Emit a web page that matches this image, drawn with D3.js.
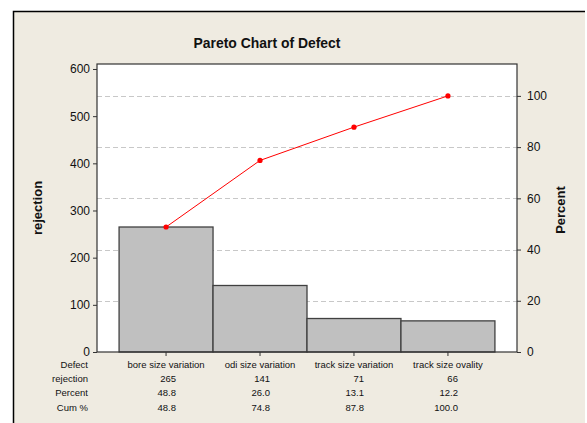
<!DOCTYPE html>
<html><head><meta charset="utf-8">
<script src="https://cdn.jsdelivr.net/npm/d3@7"></script>
<style>body{margin:0;background:#fff}svg{display:block}text{font-family:"Liberation Sans",Arial,sans-serif;fill:#111}</style>
</head><body><svg id="c" width="587" height="423"></svg>
<script>
const categories = ["bore size variation","odi size variation","track size variation","track size ovality"];
const rejection = [265,141,71,66];
const percent = [48.8,26.0,13.1,12.2];
const cumPercent = [48.8,74.8,87.8,100.0];
const leftTicks = [0,100,200,300,400,500,600];
const rightTicks = [0,20,40,60,80,100];
const rowLabels = ["Defect","rejection","Percent","Cum %"];
const yMax = 610.6;

const svg = d3.select("#c");
const L=97, R=517, T=64, B=352;
const total = d3.sum(rejection);

svg.append("rect").attr("x",13).attr("y",11).attr("width",572).attr("height",430).attr("fill","#EFEBE1");
svg.append("path").attr("d","M13.5,430V11.5H585").attr("stroke","#000").attr("stroke-width",1.5).attr("fill","none");

const x = d3.scaleBand().domain(categories).range([L,R]).paddingInner(0).paddingOuter(0.235);
const y = d3.scaleLinear().domain([0,yMax]).range([B,T]);
const yp = d3.scaleLinear().domain([0,yMax/total*100]).range([B,T]);

svg.append("rect").attr("x",L).attr("y",T).attr("width",R-L).attr("height",B-T).attr("fill","#fff");

svg.append("g").selectAll("line").data(rightTicks.filter(d=>d>0)).join("line")
  .attr("x1",L).attr("x2",R).attr("y1",d=>Math.round(yp(d))+0.5).attr("y2",d=>Math.round(yp(d))+0.5)
  .attr("stroke","#c8c8c8").attr("stroke-dasharray","5,3");

svg.append("g").selectAll("rect").data(categories).join("rect")
  .attr("x",d=>x(d)).attr("width",x.bandwidth())
  .attr("y",(d,i)=>y(rejection[i])).attr("height",(d,i)=>B-y(rejection[i]))
  .attr("fill","#c0c0c0").attr("stroke","#404040").attr("stroke-width",1.3);

svg.append("rect").attr("x",L).attr("y",T).attr("width",R-L).attr("height",B-T).attr("fill","none").attr("stroke","#333").attr("stroke-width",1.2);

const cx = d=>x(d)+x.bandwidth()/2;
svg.append("path").datum(categories).attr("fill","none").attr("stroke","#ff0000").attr("stroke-width",1)
  .attr("d",d3.line().x(d=>cx(d)).y((d,i)=>yp(cumPercent[i])));
svg.append("g").selectAll("circle").data(categories).join("circle")
  .attr("cx",d=>cx(d)).attr("cy",(d,i)=>yp(cumPercent[i])).attr("r",2.6).attr("fill","#ff0000");

const la = svg.append("g").attr("transform",`translate(${L},0)`)
  .call(d3.axisLeft(y).tickValues(leftTicks).tickSize(4).tickPadding(3));
la.select(".domain").remove();
const ra = svg.append("g").attr("transform",`translate(${R},0)`)
  .call(d3.axisRight(yp).tickValues(rightTicks).tickSize(4).tickPadding(6));
ra.select(".domain").remove();
const xa = svg.append("g").attr("transform",`translate(0,${B})`)
  .call(d3.axisBottom(x).tickSize(4).tickFormat(""));
xa.select(".domain").remove();
svg.selectAll(".tick line").attr("stroke","#333");
svg.selectAll(".tick text").attr("font-size",12).attr("font-family","'Liberation Sans',Arial,sans-serif").attr("fill","#111");

svg.append("text").attr("x",267).attr("y",48).attr("text-anchor","middle")
  .attr("font-size",15).attr("font-weight","bold").attr("textLength",147).attr("lengthAdjust","spacingAndGlyphs")
  .text("Pareto Chart of Defect");

svg.append("text").attr("transform","translate(42,208) rotate(-90)").attr("text-anchor","middle")
  .attr("font-size",13).attr("font-weight","bold").text("rejection");
svg.append("text").attr("transform","translate(565,210) rotate(-90)").attr("text-anchor","middle")
  .attr("font-size",13).attr("font-weight","bold").text("Percent");

const rowsY = [368,382,396,411];
svg.append("g").selectAll("text").data(rowLabels).join("text")
  .attr("x",88).attr("y",(d,i)=>rowsY[i]).attr("text-anchor","end").attr("font-size",9.5).text(d=>d);
svg.append("g").selectAll("text").data(categories).join("text")
  .attr("x",d=>cx(d)).attr("y",rowsY[0]).attr("text-anchor","middle").attr("font-size",9.5).text(d=>d);
const rows = [rejection.map(String), percent.map(v=>v.toFixed(1)), cumPercent.map(v=>v.toFixed(1))];
rows.forEach((r,ri)=>{
  svg.append("g").selectAll("text").data(categories).join("text")
    .attr("x",d=>cx(d)+10).attr("y",rowsY[ri+1]).attr("text-anchor","end").attr("font-size",9.5)
    .text((d,i)=>r[i]);
});
</script></body></html>
